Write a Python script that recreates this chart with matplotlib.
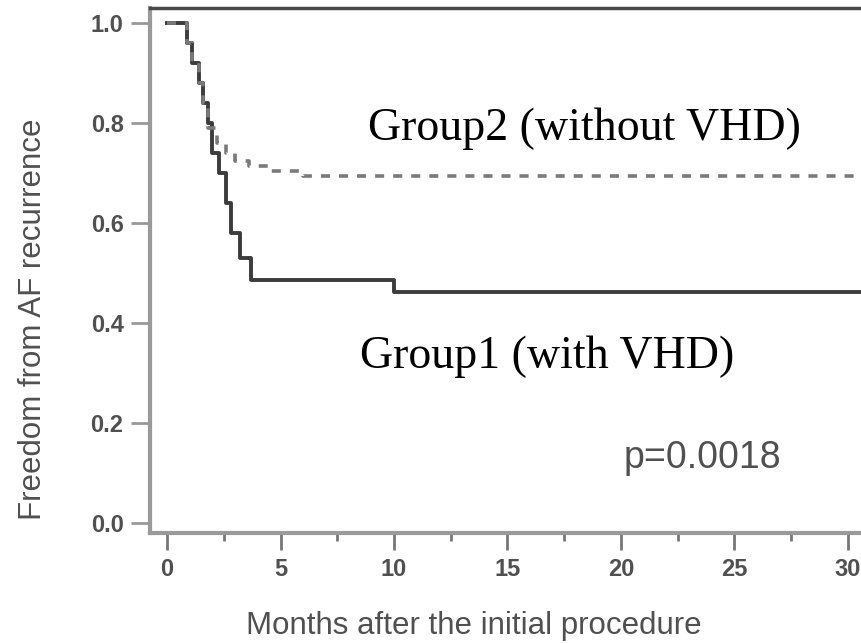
import matplotlib
matplotlib.use('Agg')
import matplotlib.pyplot as plt
from matplotlib.ticker import MultipleLocator

meses_g1 = [0, 0.9, 1.1, 1.4, 1.6, 1.8, 2.0, 2.3, 2.6, 2.8, 3.2, 3.7, 10.0, 31]
libre_g1 = [1.0, 0.96, 0.92, 0.88, 0.84, 0.80, 0.74, 0.70, 0.64, 0.58, 0.53, 0.487, 0.463, 0.463]

meses_g2 = [0, 0.9, 1.1, 1.4, 1.6, 1.8, 2.2, 2.6, 3.0, 3.6, 4.5, 6.0, 31]
libre_g2 = [1.0, 0.96, 0.92, 0.88, 0.84, 0.79, 0.76, 0.74, 0.725, 0.715, 0.705, 0.695, 0.695]

ticks_x = [0, 5, 10, 15, 20, 25, 30]
ticks_y = [0.0, 0.2, 0.4, 0.6, 0.8, 1.0]

etiqueta_g1 = 'Group1 (with VHD)'
etiqueta_g2 = 'Group2 (without VHD)'
valor_p = 'p=0.0018'

SANS = ['Liberation Sans', 'DejaVu Sans']
SERIF = ['Liberation Serif', 'DejaVu Serif']

fig = plt.figure(figsize=(8.62, 6.43), dpi=100)
ax = fig.add_axes([150 / 862, 110 / 643, 712 / 862, 525 / 643])

ax.step(meses_g1, libre_g1, where='post', color='#3c3c3c', lw=2.8)
ax.step(meses_g2, libre_g2, where='post', color='#7a7a7a', lw=2.6,
        linestyle=(0, (2.5, 2.5)))

ax.set_xlim(-0.75, 30.62)
ax.set_ylim(-0.02, 1.03)

ax.set_xticks(ticks_x)
ax.set_xticklabels([str(t) for t in ticks_x])
ax.xaxis.set_minor_locator(MultipleLocator(2.5))
ax.set_yticks(ticks_y)
ax.set_yticklabels([f'{t:.1f}' for t in ticks_y])

for lbl in ax.get_xticklabels() + ax.get_yticklabels():
    lbl.set_family(SANS)
    lbl.set_fontsize(17)
    lbl.set_fontweight('bold')
    lbl.set_color('#505050')

ax.tick_params(axis='y', length=14, width=2, color='#999999', pad=5)
ax.tick_params(axis='x', which='major', length=12, width=2, color='#777777', pad=6)
ax.tick_params(axis='x', which='minor', length=6, width=2, color='#777777')

ax.spines['right'].set_visible(False)
ax.spines['top'].set_color('#4a4a4a')
ax.spines['top'].set_linewidth(2.5)
for lado in ['left', 'bottom']:
    ax.spines[lado].set_color('#9a9a9a')
    ax.spines[lado].set_linewidth(3)

# Textos dentro del gráfico
ax.text(8.85, 0.766, etiqueta_g2, family=SERIF, fontsize=33, color='black',
        ha='left', va='baseline')
ax.text(8.5, 0.31, etiqueta_g1, family=SERIF, fontsize=33, color='black',
        ha='left', va='baseline')
ax.text(20.1, 0.11, valor_p, family=SANS, fontsize=27, color='#505050',
        ha='left', va='baseline')

# Ejes
fig.text(474 / 862, (643 - 626) / 643, 'Months after the initial procedure',
         family=SANS, fontsize=22.5, color='#505050', ha='center', va='center')
fig.text(33 / 862, (643 - 319) / 643, 'Freedom from AF recurrence',
         family=SANS, fontsize=22.5, color='#505050', ha='center', va='center',
         rotation=90)

fig.savefig('out.png', dpi=100, facecolor='white')
